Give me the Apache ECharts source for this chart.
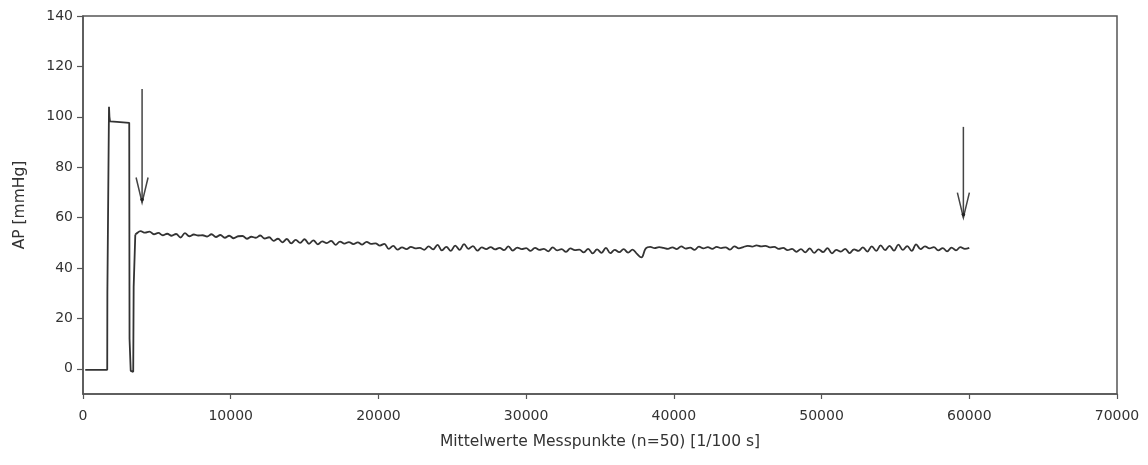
<!DOCTYPE html>
<html>
<head>
<meta charset="utf-8">
<title>AP [mmHg]</title>
<script src="https://cdn.jsdelivr.net/npm/echarts@6/dist/echarts.min.js"></script>
<style>
  html, body { margin: 0; padding: 0; background: #fff; }
  #chart { width: 1148px; height: 465px; }
</style>
</head>
<body>
<div id="chart"></div>
<script>
// Axis tick values
const yTicks = [0, 20, 40, 60, 80, 100, 120, 140];
const xTicks = [0, 10000, 20000, 30000, 40000, 50000, 60000, 70000];

// Start-up phase: [sample, AP] pairs (baseline, occlusion, release)
const startPhase = [
  [150, -0.4], [1640, -0.4], [1650, 30.5], [1740, 31], [1760, 104],
  [1790, 100], [1830, 98.2], [2300, 98], [2320, 97.6], [3130, 97.6],
  [3150, 12], [3220, 12], [3230, -0.8], [3400, -1.2], [3430, 32.6],
  [3520, 33], [3540, 53.2]
];

// Steady phase: mean AP sampled every 300 points from 3600 on
const steadyStart = 3600;
const steadyStep = 300;
const steadyAP = [
  53.6, 54.6, 54.0, 54.4, 53.4, 53.9, 53.0, 53.6, 52.8, 53.5,
  52.1, 53.8, 52.6, 53.3, 52.9, 53.0, 52.5, 53.4, 52.3, 53.1,
  52.0, 52.8, 51.8, 52.6, 52.7, 51.6, 52.4, 52.0, 52.9, 51.7,
  52.2, 50.8, 51.6, 50.2, 51.5, 49.8, 51.2, 50.0, 51.4, 49.6,
  51.0, 49.4, 50.6, 49.9, 50.8, 49.2, 50.5, 49.7, 50.3, 49.5,
  50.2, 49.3, 50.4, 49.6, 49.8, 48.9, 49.6, 47.6, 48.8, 47.3,
  48.2, 47.5, 48.4, 47.8, 48.0, 47.2, 48.6, 47.4, 49.2, 47.0,
  48.4, 46.8, 48.9, 47.2, 49.5, 47.6, 48.7, 46.9, 48.2, 47.5,
  48.3, 47.4, 48.0, 47.1, 48.6, 46.9, 48.1, 47.5, 47.9, 46.8,
  48.0, 47.2, 47.6, 46.6, 48.2, 47.0, 47.5, 46.4, 47.8, 47.1,
  47.3, 46.2, 47.6, 45.8, 47.4, 46.0, 48.0, 45.9, 47.2, 46.3,
  47.5, 46.1, 47.3, 45.6, 44.2, 47.8, 48.4, 47.9, 48.3, 48.0,
  47.6, 48.2, 47.5, 48.6, 47.7, 48.1, 47.2, 48.5, 47.8, 48.3,
  47.6, 48.4, 47.9, 48.2, 47.3, 48.6, 47.8, 48.3, 48.8, 48.5,
  49.0, 48.6, 48.8, 48.2, 48.4, 47.6, 48.0, 47.1, 47.6, 46.4,
  47.5, 46.2, 47.8, 46.0, 47.4, 46.3, 47.9, 45.8, 47.2, 46.5,
  47.6, 45.9, 47.4, 46.8, 48.2, 46.5, 48.6, 46.8, 49.0, 47.1,
  48.8, 46.9, 49.3, 47.2, 48.7, 46.8, 49.4, 47.5, 48.6, 47.8,
  48.3, 47.0, 47.9, 46.6, 48.1, 47.0, 48.3, 47.6, 48.0
];

// Event arrows: [sample, shaft top, tip]
const arrows = [
  [4000, 111, 66],
  [59600, 96, 60]
];

const steadyTrace = [startPhase[startPhase.length - 1]].concat(
  steadyAP.map((v, i) => [steadyStart + i * steadyStep, v])
);

const ink = '#333';
const axisInk = '#555';
const font = 'DejaVu Sans';

const chart = echarts.init(document.getElementById('chart'), null, { renderer: 'canvas' });

chart.setOption({
  backgroundColor: '#fff',
  animation: false,
  grid: {
    left: 83, right: 31, top: 16, bottom: 71,
    show: true, borderColor: axisInk, borderWidth: 1.5
  },
  xAxis: {
    type: 'value',
    min: 0, max: 70000, interval: 10000,
    name: 'Mittelwerte Messpunkte (n=50) [1/100 s]',
    nameLocation: 'middle', nameGap: 40,
    nameTextStyle: { fontFamily: font, fontSize: 15.5, color: ink },
    axisLine: { onZero: false, lineStyle: { color: axisInk, width: 1.5 } },
    axisTick: { show: true, inside: false, length: 5, lineStyle: { color: axisInk, width: 1.2 }, customValues: xTicks },
    axisLabel: {
      fontFamily: font, fontSize: 14, color: ink, margin: 15, customValues: xTicks,
      formatter: v => String(v)
    },
    splitLine: { show: false }
  },
  yAxis: {
    type: 'value',
    min: -10, max: 140,
    name: 'AP [mmHg]',
    nameLocation: 'middle', nameGap: 55,
    nameTextStyle: { fontFamily: font, fontSize: 15.5, color: ink },
    axisLine: { show: true, onZero: false, lineStyle: { color: axisInk, width: 1.5 } },
    axisTick: { show: true, inside: false, length: 6, lineStyle: { color: axisInk, width: 1.2 }, customValues: yTicks },
    axisLabel: {
      fontFamily: font, fontSize: 14, color: ink, margin: 10, customValues: yTicks,
      formatter: v => String(v)
    },
    splitLine: { show: false }
  },
  series: [
    {
      type: 'line',
      data: startPhase,
      showSymbol: false,
      lineStyle: { color: ink, width: 1.8 },
      z: 3
    },
    {
      type: 'line',
      data: steadyTrace,
      showSymbol: false,
      smooth: 0.4,
      lineStyle: { color: ink, width: 1.8 },
      z: 3
    },
    {
      type: 'custom',
      data: arrows,
      renderItem: function (params, api) {
        const x = api.value(0);
        const top = api.coord([x, api.value(1)]);
        const tip = api.coord([x, api.value(2)]);
        const style = { stroke: '#444', lineWidth: 1.5, fill: null };
        return {
          type: 'group',
          children: [
            { type: 'line', shape: { x1: top[0], y1: top[1], x2: tip[0], y2: tip[1] }, style: style },
            { type: 'polyline', shape: { points: [[tip[0] - 6, tip[1] - 25], [tip[0], tip[1]], [tip[0] + 6, tip[1] - 25]] }, style: style },
            { type: 'circle', shape: { cx: tip[0], cy: tip[1] - 3, r: 1.8 }, style: { fill: '#222' } }
          ]
        };
      },
      z: 4
    }
  ]
});
</script>
</body>
</html>
